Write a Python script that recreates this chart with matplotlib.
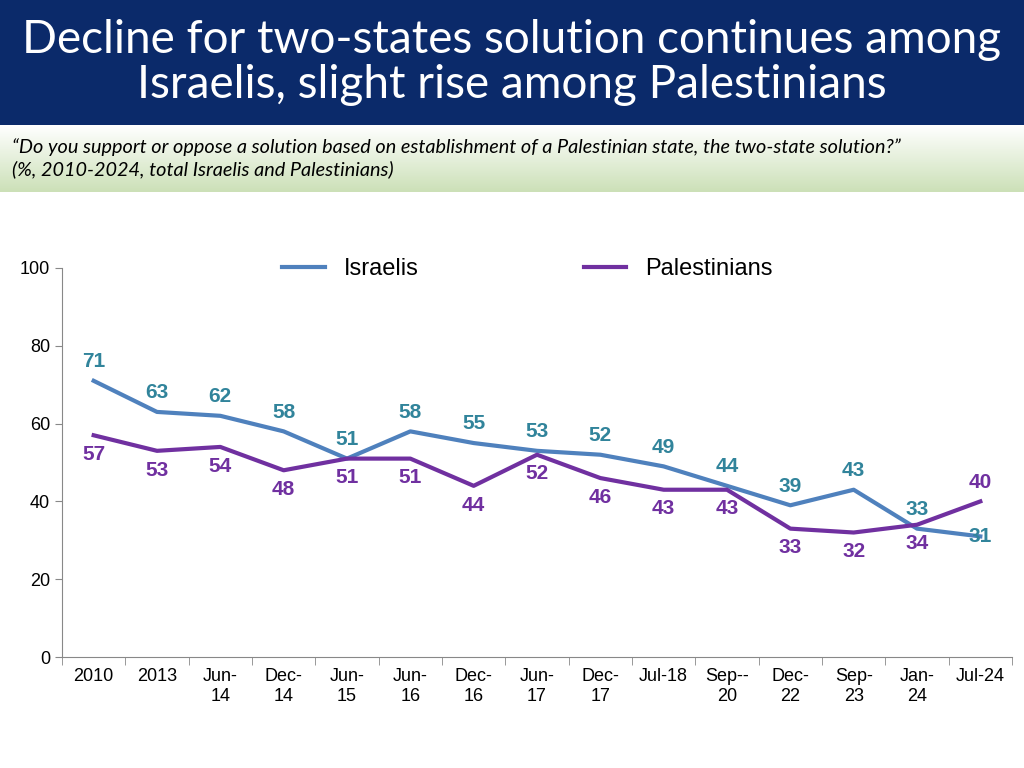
import numpy as np
import matplotlib.pyplot as plt

categories = ["2010", "2013", "Jun-\n14", "Dec-\n14", "Jun-\n15", "Jun-\n16", "Dec-\n16", "Jun-\n17",
              "Dec-\n17", "Jul-18", "Sep--\n20", "Dec-\n22", "Sep-\n23", "Jan-\n24", "Jul-24"]
israelis = [71, 63, 62, 58, 51, 58, 55, 53, 52, 49, 44, 39, 43, 33, 31]
palestinians = [57, 53, 54, 48, 51, 51, 44, 52, 46, 43, 43, 33, 32, 34, 40]

blue = "#4f81bd"
teal = "#31849b"
purple = "#7030a0"

fig = plt.figure(figsize=(10.24, 7.68), dpi=100)

# title band
tax = fig.add_axes([0, 1 - 125 / 768, 1, 125 / 768])
tax.set_facecolor("#0b2a6a")
tax.set_xticks([]); tax.set_yticks([])
for s in tax.spines.values():
    s.set_visible(False)
tax.text(0.5, 0.5, "Decline for two-states solution continues among\nIsraelis, slight rise among Palestinians",
         ha="center", va="center", color="white", fontsize=33, family="Lato", linespacing=1.1)

# subtitle band with gradient
sax = fig.add_axes([0, 1 - 192 / 768, 1, 67 / 768])
grad = np.linspace(0, 1, 100).reshape(-1, 1)
c0 = np.array([1.0, 1.0, 1.0]); c1 = np.array([0.80, 0.88, 0.72])
img = c0 + (c1 - c0) * grad[..., None]
sax.imshow(img, aspect="auto", extent=[0, 1, 0, 1], origin="upper")
sax.set_xticks([]); sax.set_yticks([])
for s in sax.spines.values():
    s.set_visible(False)
sax.text(0.012, 0.5, "\u201cDo you support or oppose a solution based on establishment of a Palestinian state, the two-state solution?\u201d\n(%, 2010-2024, total Israelis and Palestinians)",
         ha="left", va="center", fontsize=14.3, style="italic", family="Lato", linespacing=1.3)

ax = fig.add_axes([62 / 1024, 1 - 657 / 768, 950 / 1024, 389 / 768])
x = np.arange(len(categories))
ax.plot(x, israelis, color=blue, lw=3, label="Israelis")
ax.plot(x, palestinians, color=purple, lw=3, label="Palestinians")
ax.set_xlim(-0.5, len(categories) - 0.5)
ax.set_ylim(0, 100)
ax.set_yticks(range(0, 101, 20))
ax.set_xticks(x)
ax.set_xticklabels(categories, fontsize=13, family="Liberation Sans")
ax.tick_params(axis="x", length=0, pad=8)
ax.set_xticks(np.arange(-0.5, len(categories)), minor=True)
ax.tick_params(axis="x", which="minor", length=6, color="#888888")
ax.tick_params(axis="y", labelsize=13, length=5, color="#888888")
for t in ax.get_yticklabels():
    t.set_family("Liberation Sans")
for side in ["top", "right"]:
    ax.spines[side].set_visible(False)
for side in ["left", "bottom"]:
    ax.spines[side].set_color("#888888")

n = len(categories)
lab = dict(fontsize=15, weight="bold", family="Liberation Sans", ha="center")
for i in range(n):
    iv, pv = israelis[i], palestinians[i]
    if i == n - 1:
        ax.text(i, iv, str(iv), va="center", color=teal, **lab)
        ax.text(i, pv + 2.5, str(pv), va="bottom", color=purple, **lab)
    else:
        ax.text(i, iv + 2.5, str(iv), va="bottom", color=teal, **lab)
        ax.text(i, pv - 2.5, str(pv), va="top", color=purple, **lab)

ax.legend(loc="upper center", bbox_to_anchor=(0.49, 1.08), ncol=2, frameon=False,
          prop={"family": "Liberation Sans", "size": 17}, handlelength=1.8, columnspacing=7)

fig.savefig("out.png", dpi=100)
